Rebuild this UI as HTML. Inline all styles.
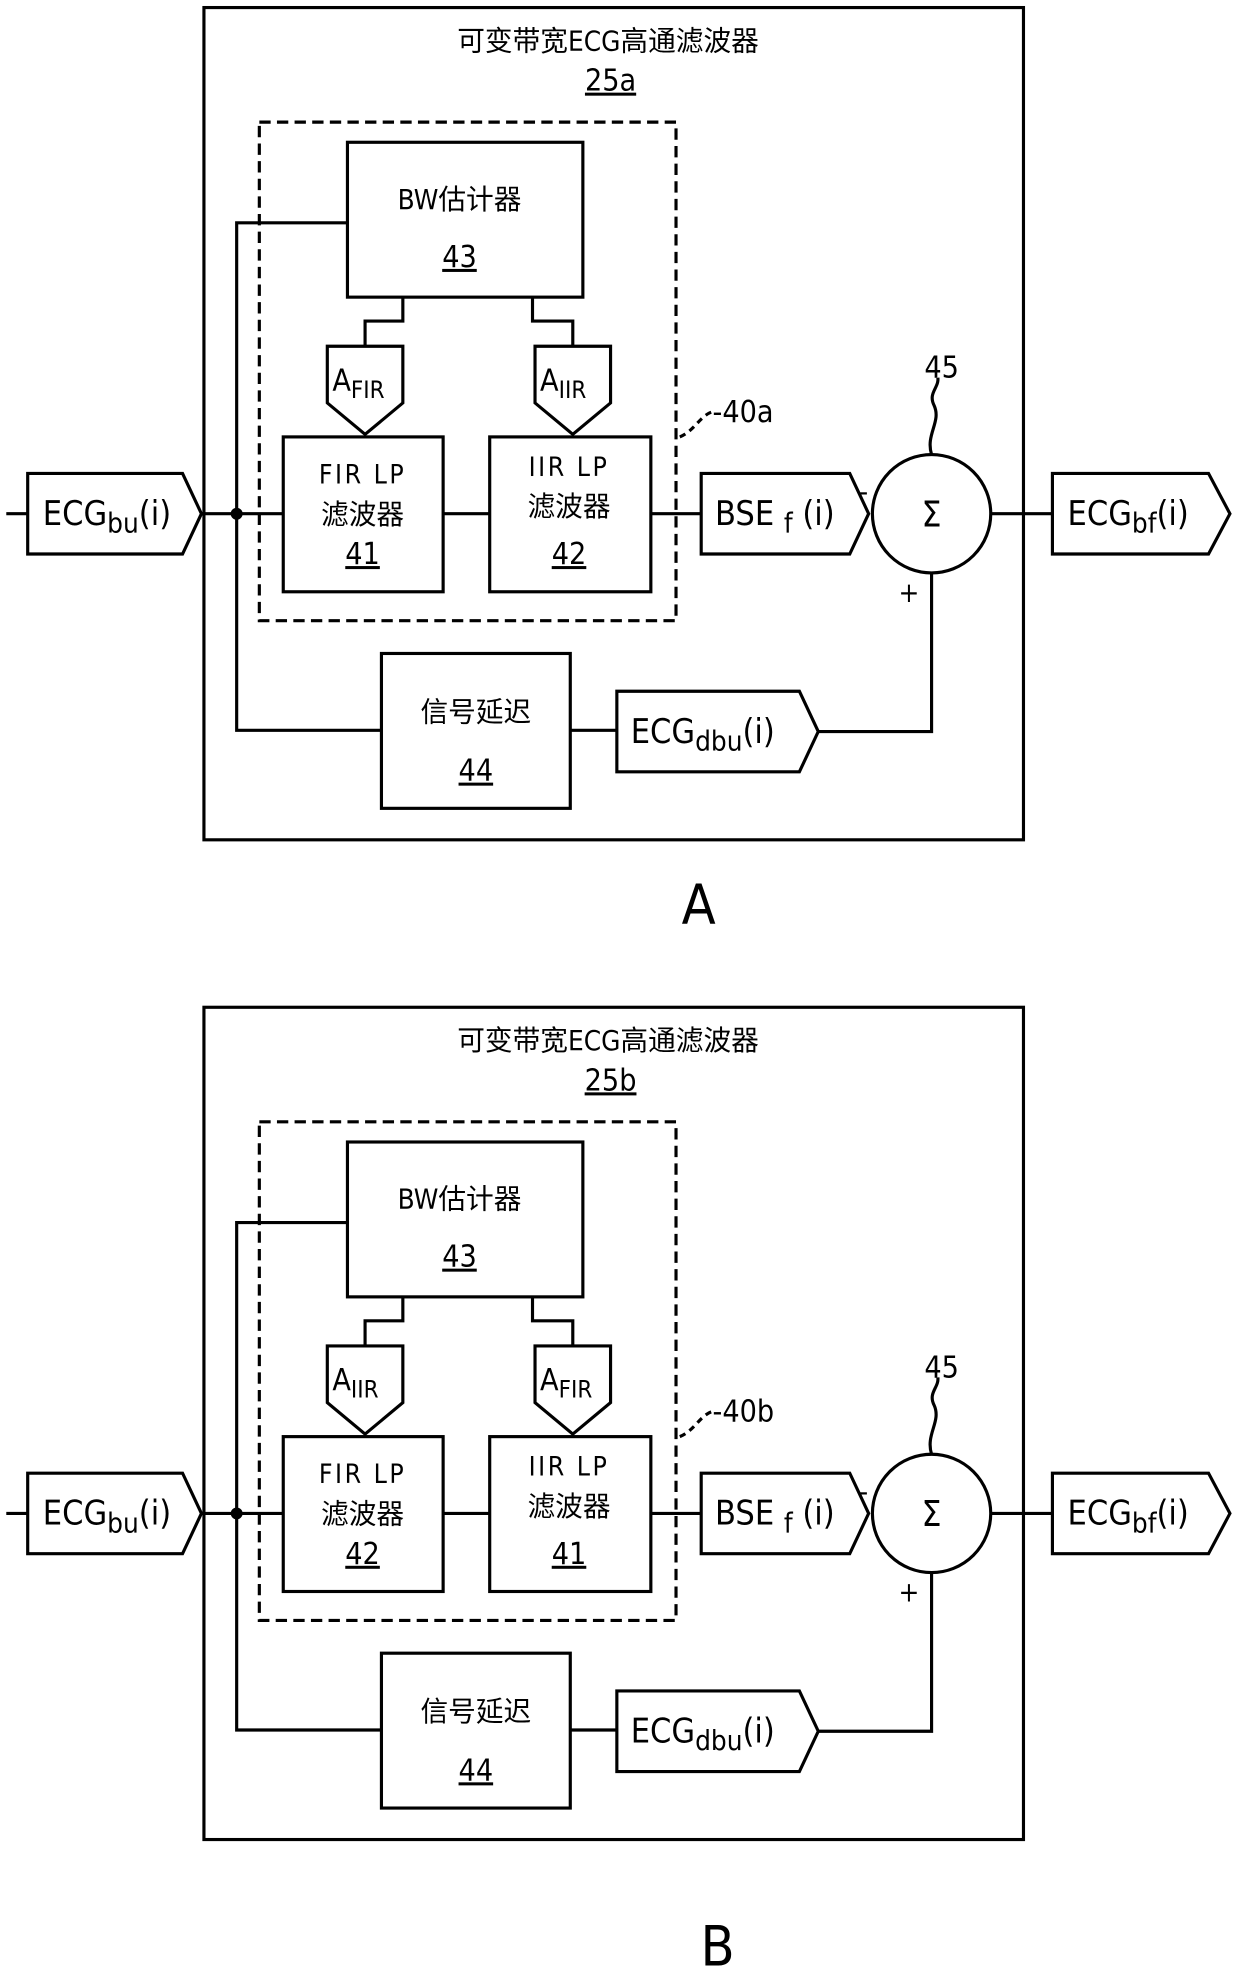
<!DOCTYPE html>
<html><head><meta charset="utf-8"><style>
html,body{margin:0;padding:0;background:#fff;}
svg{display:block;}
text{font-family:"DejaVu Sans Condensed","DejaVu Sans","Noto Sans CJK SC",sans-serif;fill:#000;}
</style></head><body>
<svg width="1240" height="1973" viewBox="0 0 985 1567" preserveAspectRatio="none" xmlns="http://www.w3.org/2000/svg">
<defs>
<g id="common" stroke="#000" stroke-width="2.5" fill="none">
  <rect x="162" y="6" width="651" height="661"/>
  <rect x="206" y="97" width="331" height="396" stroke-dasharray="9,5"/>
  <rect x="276" y="113" width="187" height="123"/>
  <polyline points="276,177 188,177 188,580 303,580"/>
  <polyline points="320,236 320,255 290,255 290,275"/>
  <polyline points="423,236 423,255 455,255 455,275"/>
  <polygon points="260,275 320,275 320,320 290,345 260,320"/>
  <polygon points="425,275 485,275 485,320 455,345 425,320"/>
  <rect x="225" y="347" width="127" height="123"/>
  <rect x="389" y="347" width="128" height="123"/>
  <line x1="352" y1="408" x2="389" y2="408"/>
  <line x1="5" y1="408" x2="22" y2="408"/>
  <polygon points="22,376 145,376 160,408 145,440 22,440"/>
  <line x1="160" y1="408" x2="225" y2="408"/>
  <line x1="517" y1="408" x2="557" y2="408"/>
  <polygon points="557,376 675,376 690,408 675,440 557,440"/>
  <circle cx="740" cy="408" r="47"/>
  <path d="M740,361 C735,345 748,335 742,322 C737,312 746,308 745,300"/>
  <path d="M540,347 C552,342 556,330 566,327" stroke-dasharray="5,4"/>
  <line x1="787" y1="408" x2="836" y2="408"/>
  <polygon points="836,376 960,376 977,408 960,440 836,440"/>
  <rect x="303" y="519" width="150" height="123"/>
  <line x1="453" y1="580" x2="490" y2="580"/>
  <polygon points="490,549 635,549 650,581 635,613 490,613"/>
  <polyline points="650,581 740,581 740,455"/>
  <circle cx="188" cy="408" r="3.5" fill="#000"/>
</g>
<g id="texts">
  <text x="483" y="40" font-size="22" text-anchor="middle">可变带宽ECG高通滤波器</text>
  <text x="365" y="166" font-size="22" text-anchor="middle">BW估计器</text>
  <text x="365" y="212" font-size="24" text-anchor="middle" text-decoration="underline">43</text>
  <text x="288" y="384" font-size="21" text-anchor="middle" letter-spacing="2">FIR LP</text>
  <text x="288" y="416" font-size="22" text-anchor="middle">滤波器</text>
  <text x="452" y="378" font-size="21" text-anchor="middle" letter-spacing="2">IIR LP</text>
  <text x="452" y="410" font-size="22" text-anchor="middle">滤波器</text>
  <text x="34" y="417" font-size="27">ECG<tspan font-size="22" dy="6">bu</tspan><tspan dy="-6">(i)</tspan></text>
  <text x="568" y="417" font-size="27">BSE <tspan font-size="22" dy="6">f</tspan><tspan dy="-6"> (i)</tspan></text>
  <text x="740" y="418" font-size="28" text-anchor="middle">Σ</text>
  <text x="686" y="398" font-size="22" text-anchor="middle">-</text>
  <text x="722" y="478" font-size="22" text-anchor="middle">+</text>
  <text x="748" y="300" font-size="24" text-anchor="middle">45</text>
  <text x="848" y="417" font-size="27">ECG<tspan font-size="22" dy="6">bf</tspan><tspan dy="-6">(i)</tspan></text>
  <text x="378" y="573" font-size="22" text-anchor="middle">信号延迟</text>
  <text x="378" y="620" font-size="24" text-anchor="middle" text-decoration="underline">44</text>
  <text x="501" y="590" font-size="27">ECG<tspan font-size="22" dy="6">dbu</tspan><tspan dy="-6">(i)</tspan></text>
</g>
</defs>

<!-- A -->
<use href="#common"/>
<use href="#texts"/>
<text x="485" y="72" font-size="24" text-anchor="middle" text-decoration="underline">25a</text>
<text x="264" y="310" font-size="24">A<tspan font-size="19" dy="6">FIR</tspan></text>
<text x="429" y="310" font-size="24">A<tspan font-size="19" dy="6">IIR</tspan></text>
<text x="288" y="448" font-size="24" text-anchor="middle" text-decoration="underline">41</text>
<text x="452" y="448" font-size="24" text-anchor="middle" text-decoration="underline">42</text>
<text x="566" y="335" font-size="24">-40a</text>
<text x="555" y="734" font-size="44" text-anchor="middle">A</text>

<!-- B -->
<g transform="translate(0,794)">
<use href="#common"/>
<use href="#texts"/>
<text x="485" y="72" font-size="24" text-anchor="middle" text-decoration="underline">25b</text>
<text x="264" y="310" font-size="24">A<tspan font-size="19" dy="6">IIR</tspan></text>
<text x="429" y="310" font-size="24">A<tspan font-size="19" dy="6">FIR</tspan></text>
<text x="288" y="448" font-size="24" text-anchor="middle" text-decoration="underline">42</text>
<text x="452" y="448" font-size="24" text-anchor="middle" text-decoration="underline">41</text>
<text x="566" y="335" font-size="24">-40b</text>
<text x="570" y="767" font-size="44" text-anchor="middle">B</text>
</g>
</svg>
</body></html>
